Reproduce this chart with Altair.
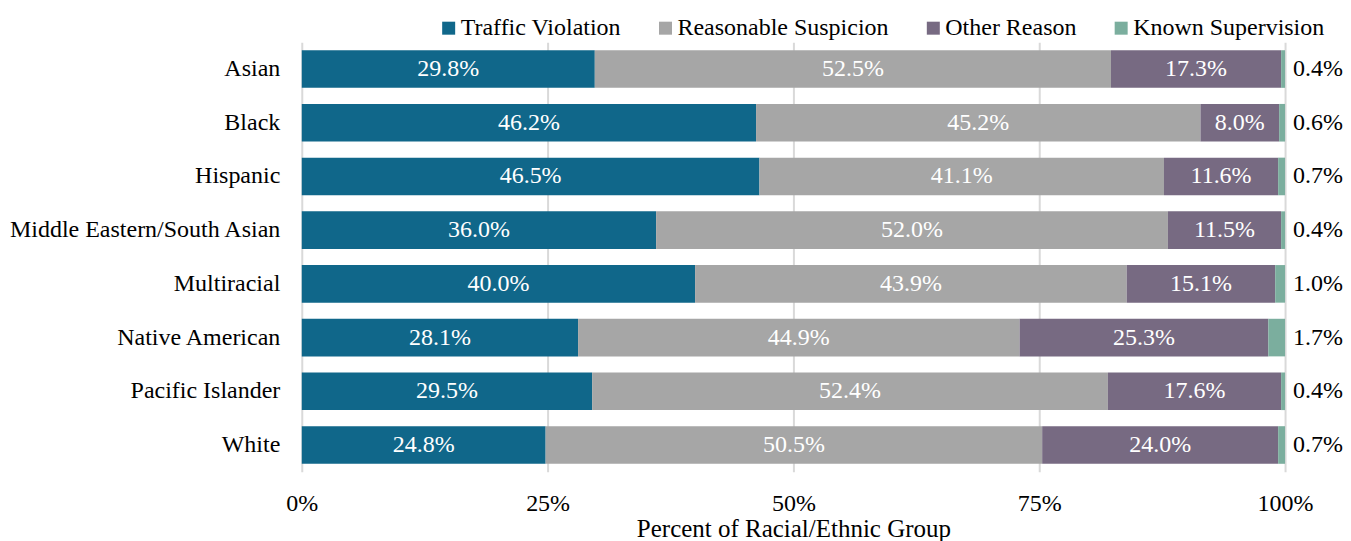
import altair as alt
import pandas as pd

groups = ["Asian", "Black", "Hispanic", "Middle Eastern/South Asian",
          "Multiracial", "Native American", "Pacific Islander", "White"]
reasons = ["Traffic Violation", "Reasonable Suspicion", "Other Reason", "Known Supervision"]
colors = ["#10678A", "#A6A6A6", "#776A82", "#7BAE9E"]

traffic = [29.8, 46.2, 46.5, 36.0, 40.0, 28.1, 29.5, 24.8]
suspicion = [52.5, 45.2, 41.1, 52.0, 43.9, 44.9, 52.4, 50.5]
other = [17.3, 8.0, 11.6, 11.5, 15.1, 25.3, 17.6, 24.0]
known = [0.4, 0.6, 0.7, 0.4, 1.0, 1.7, 0.4, 0.7]
x_ticks = [0, 0.25, 0.5, 0.75, 1]

series = [traffic, suspicion, other, known]
rows = []
for ri, (reason, vals) in enumerate(zip(reasons, series)):
    for g, v in zip(groups, vals):
        rows.append({"group": g, "reason": reason, "order": ri, "value": v})
df = pd.DataFrame(rows)

FONT = "Liberation Serif"
FS = 24

base = alt.Chart(df).transform_stack(
    stack="value", groupby=["group"], sort=[{"field": "order"}],
    as_=["x0", "x1"], offset="normalize"
).transform_calculate(
    mid="(datum.x0 + datum.x1) / 2",
    label="format(datum.value, '.1f') + '%'"
)

y_enc = alt.Y("group:N", sort=groups, title=None,
              scale=alt.Scale(paddingInner=0.3, paddingOuter=0.15),
              axis=alt.Axis(domain=False, ticks=False, labelFontSize=FS, labelLimit=500,
                            labelFont=FONT, labelColor="#000000", labelPadding=22))

x_scale = alt.Scale(domain=[0, 1])

bars = base.mark_bar().encode(
    x=alt.X("x0:Q", scale=x_scale,
            title="Percent of Racial/Ethnic Group",
            axis=alt.Axis(format="%", values=x_ticks, labelFlush=False,
                          domain=False, ticks=False, labelFontSize=FS,
                          labelFont=FONT, labelColor="#000000", labelPadding=20,
                          titleFont=FONT, titleFontSize=25, titleFontWeight="normal",
                          titleColor="#000000", titlePadding=1,
                          grid=True, gridColor="#D9D9D9", gridWidth=2)),
    x2="x1:Q",
    y=y_enc,
    color=alt.Color("reason:N", sort=reasons,
                    scale=alt.Scale(domain=reasons, range=colors),
                    legend=alt.Legend(title=None, orient="none", direction="horizontal",
                                      legendX=135, legendY=-26,
                                      symbolType="square", symbolSize=169,
                                      symbolStrokeWidth=0, labelFont=FONT,
                                      labelFontSize=FS, labelColor="#000000",
                                      labelLimit=500,
                                      columnPadding=32, labelOffset=0)),
    order=alt.Order("order:Q"),
)

inside = base.transform_filter("datum.order < 3").mark_text(
    color="white", font=FONT, fontSize=FS, align="center", baseline="middle"
).encode(
    x=alt.X("mid:Q"),
    y=alt.Y("group:N", sort=groups),
    text="label:N",
)

outside = base.transform_filter("datum.order == 3").mark_text(
    color="black", font=FONT, fontSize=FS, align="left", baseline="middle", dx=8
).encode(
    x=alt.X("x1:Q"),
    y=alt.Y("group:N", sort=groups),
    text="label:N",
)

chart = alt.layer(bars, inside, outside).properties(
    width=984, height=430,
    padding={"top": 8, "left": 0, "right": 0, "bottom": 0}
).configure_view(stroke=None)

chart.save("out.html", embed_options={"renderer": "svg", "actions": False})
